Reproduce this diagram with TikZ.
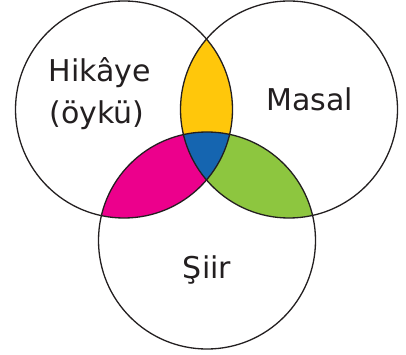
\documentclass[tikz,border=0pt]{standalone}
\usepackage{fontspec}
\setmainfont{DejaVu Sans}
\definecolor{cyel}{HTML}{FFC70B}
\definecolor{cmag}{HTML}{EC008C}
\definecolor{cgrn}{HTML}{8DC63F}
\definecolor{cblu}{HTML}{1565B0}
\definecolor{ctxt}{HTML}{231F20}
\tikzset{
  ring/.style={draw=ctxt, line width=1.3pt},
  label/.style={text=ctxt, font=\fontsize{30}{36}\selectfont, anchor=base, inner sep=0pt}
}
\def\cL{(124,109.5) circle[radius=108.5pt]}
\def\cR{(289,109.5) circle[radius=108.5pt]}
\def\cB{(207,240.5) circle[radius=108.5pt]}
\begin{document}
\begin{tikzpicture}[x=1pt,y=-1pt]
\useasboundingbox (0,0) rectangle (406,355);
\fill[white] (0,0) rectangle (406,355);
\begin{scope}\clip \cL; \fill[cyel] \cR; \end{scope}
\begin{scope}\clip \cL; \fill[cmag] \cB; \end{scope}
\begin{scope}\clip \cR; \fill[cgrn] \cB; \end{scope}
\begin{scope}\clip \cL; \clip \cR; \fill[cblu] \cB; \end{scope}
\draw[ring] \cL;
\draw[ring] \cR;
\draw[ring] \cB;
\node[label] (hik) at (100,82) {Hikâye};
\node[label] (oyku) at (97,124) {(öykü)};
\node[label] (mas) at (310,111) {Masal};
\node[label] (siir) at (207,278) {Şiir};
\end{tikzpicture}
\end{document}
